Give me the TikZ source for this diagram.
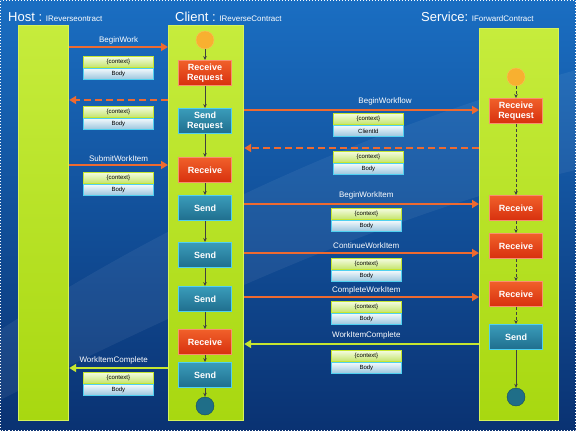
\documentclass[tikz,border=0pt]{standalone}
\usepackage{fontspec}
\setmainfont{Liberation Sans}
\usetikzlibrary{arrows.meta,calc,positioning}

\definecolor{bgtop}{HTML}{1A6EC2}
\definecolor{bgmid}{HTML}{1C80CE}
\definecolor{bgbot}{HTML}{0A3272}
\definecolor{lanetop}{HTML}{C6EC3C}
\definecolor{lanebot}{HTML}{A8D810}
\definecolor{lanerim}{HTML}{D6F25A}
\definecolor{recvtop}{HTML}{F0602A}
\definecolor{recvbot}{HTML}{D8300E}
\definecolor{recvrim}{HTML}{F89070}
\definecolor{sendtop}{HTML}{3A9CBA}
\definecolor{sendbot}{HTML}{1F6E8E}
\definecolor{sendrim}{HTML}{50D0F0}
\definecolor{msgorange}{HTML}{EE6A30}
\definecolor{msggreen}{HTML}{C6E630}
\definecolor{flowgrey}{HTML}{404040}
\definecolor{startfill}{HTML}{F8B030}
\definecolor{endfill}{HTML}{1F6E88}
\definecolor{hdrtop}{HTML}{F4FCE0}
\definecolor{hdrbot}{HTML}{C4E46C}
\definecolor{bodytop}{HTML}{F0F8FC}
\definecolor{bodybot}{HTML}{98C4DC}

\begin{document}
\begin{tikzpicture}[
  x=1pt,y=-1pt,
  lane/.style={rectangle,draw=lanerim,line width=1.2pt,top color=lanetop,bottom color=lanebot,anchor=north west,inner sep=0pt},
  actbox/.style={rectangle,line width=0.9pt,minimum width=53pt,minimum height=25pt,inner sep=1pt,
    align=center,text=white,font=\bfseries\fontsize{9}{9.5}\selectfont},
  recvbox/.style={actbox,draw=recvrim,top color=recvtop,bottom color=recvbot},
  sendbox/.style={actbox,draw=sendrim,top color=sendtop,bottom color=sendbot},
  startdot/.style={circle,fill=startfill,draw=startfill!80!white,minimum size=18pt,inner sep=0pt},
  enddot/.style={circle,fill=endfill,draw=endfill!70!black,minimum size=18pt,inner sep=0pt},
  flow/.style={-{Stealth[length=4pt,width=3.5pt]},draw=flowgrey,line width=0.6pt},
  svcflow/.style={flow,dash pattern=on 3pt off 2pt},
  msg/.style={-{Triangle[length=7pt,width=8pt]},draw=msgorange,line width=2.4pt},
  reply/.style={msg,dash pattern=on 7pt off 4pt},
  backmsg/.style={-{Triangle[length=7pt,width=8pt]},draw=msggreen,line width=2.2pt},
  msglab/.style={text=white,font=\fontsize{8}{9}\selectfont,inner sep=1pt},
  hdrbox/.style={rectangle,draw=msggreen,line width=0.8pt,top color=hdrtop,bottom color=hdrbot,
    minimum width=70pt,minimum height=11pt,inner sep=0pt,font=\fontsize{6}{6.5}\selectfont,anchor=north west},
  bodybox/.style={rectangle,draw=sendrim,line width=0.8pt,top color=bodytop,bottom color=bodybot,
    minimum width=70pt,minimum height=11pt,inner sep=0pt,font=\fontsize{6}{6.5}\selectfont},
  title/.style={text=white,anchor=base west,inner sep=0pt}
]
\useasboundingbox (0,0) rectangle (576,431);

% ---------------- background ----------------
\shade[top color=bgtop,middle color=bgmid,bottom color=bgbot] (0,0) rectangle (576,431);
\fill[white,opacity=0.06] (0,330) .. controls (200,200) and (400,120) .. (576,70)
  -- (576,170) .. controls (400,210) and (200,300) .. (0,400) -- cycle;
\draw[white,dotted,line width=1pt] (0.5,0.5) rectangle (575.5,430.5);

% ---------------- titles ----------------
\node[title] (thost) at (8,21) {{\fontsize{13}{14}\selectfont Host :} {\fontsize{8}{9}\selectfont IReverseontract}};
\node[title] (tclient) at (175,21) {{\fontsize{13}{14}\selectfont Client :} {\fontsize{8}{9}\selectfont IReverseContract}};
\node[title] (tservice) at (421,21) {{\fontsize{13}{14}\selectfont Service:} {\fontsize{8}{9}\selectfont IForwardContract}};

% ---------------- lanes ----------------
\node[lane,minimum width=50pt,minimum height=395pt] (host) at (18,25) {};
\node[lane,minimum width=75pt,minimum height=395pt] (client) at (168,25) {};
\node[lane,minimum width=79pt,minimum height=392pt] (service) at (479,28) {};

% ---------------- client activities ----------------
\node[startdot] (cstart) at (205,40) {};
\node[recvbox] (c1) at (205,73) {Receive\\Request};
\node[sendbox] (c2) at (205,121) {Send\\Request};
\node[recvbox] (c3) at (205,170) {Receive};
\node[sendbox] (c4) at (205,208) {Send};
\node[sendbox] (c5) at (205,255) {Send};
\node[sendbox] (c6) at (205,299) {Send};
\node[recvbox] (c7) at (205,342) {Receive};
\node[sendbox] (c8) at (205,375) {Send};
\node[enddot] (cend) at (205,406) {};

\draw[flow] (cstart) -- (c1);
\foreach \a/\b in {c1/c2,c2/c3,c3/c4,c4/c5,c5/c6,c6/c7,c7/c8,c8/cend}
  \draw[flow] (\a) -- (\b);

% ---------------- service activities ----------------
\node[startdot] (sstart) at (516,77) {};
\node[recvbox] (s1) at (516,111) {Receive\\Request};
\node[recvbox] (s2) at (516,208) {Receive};
\node[recvbox] (s3) at (516,246) {Receive};
\node[recvbox] (s4) at (516,294) {Receive};
\node[sendbox] (s5) at (516,337) {Send};
\node[enddot] (send) at (516,397) {};

\foreach \a/\b in {sstart/s1,s1/s2,s2/s3,s3/s4,s4/s5}
  \draw[svcflow] (\a) -- (\b);
\draw[flow] (s5) -- (send);

% ---------------- messages host <-> client ----------------
\coordinate (m1) at (0,47);
\coordinate (m2) at (0,100);
\coordinate (m3) at (0,165);
\coordinate (m4) at (0,368);
\draw[msg] (host.east |- m1) -- (client.west |- m1);
\node[msglab,anchor=south] at ($(host.east |- m1)!0.5!(client.west |- m1)+(0,-2)$) {BeginWork};
\draw[reply] (client.west |- m2) -- (host.east |- m2);
\draw[msg] (host.east |- m3) -- (client.west |- m3);
\node[msglab,anchor=south] at ($(host.east |- m3)!0.5!(client.west |- m3)+(0,-2)$) {SubmitWorkItem};
\draw[backmsg] (client.west |- m4) -- (host.east |- m4);
\node[msglab,anchor=south] at ($(host.east |- m4)!0.45!(client.west |- m4)+(0,-3)$) {WorkItemComplete};

% ---------------- messages client <-> service ----------------
\coordinate (m5) at (0,110);
\coordinate (m6) at (0,148);
\coordinate (m7) at (0,204);
\coordinate (m8) at (0,253);
\coordinate (m9) at (0,297);
\coordinate (m10) at (0,344);
\draw[msg] (client.east |- m5) -- (service.west |- m5);
\node[msglab,anchor=south] at ($(client.east |- m5)!0.6!(service.west |- m5)+(0,-4)$) {BeginWorkflow};
\draw[reply] (service.west |- m6) -- (client.east |- m6);
\draw[msg] (client.east |- m7) -- (service.west |- m7);
\node[msglab,anchor=south] at ($(client.east |- m7)!0.52!(service.west |- m7)+(0,-4)$) {BeginWorkItem};
\draw[msg] (client.east |- m8) -- (service.west |- m8);
\node[msglab,anchor=south] at ($(client.east |- m8)!0.52!(service.west |- m8)+(0,-3)$) {ContinueWorkItem};
\draw[msg] (client.east |- m9) -- (service.west |- m9);
\node[msglab,anchor=south] at ($(client.east |- m9)!0.52!(service.west |- m9)+(0,-2)$) {CompleteWorkItem};
\draw[backmsg] (service.west |- m10) -- (client.east |- m10);
\node[msglab,anchor=south] at ($(client.east |- m10)!0.52!(service.west |- m10)+(0,-4)$) {WorkItemComplete};

% ---------------- message contents ----------------
\foreach \n/\x/\y/\bt in {b1/83/56/Body,b2/83/106/Body,b3/83/172/Body,b4/83/372/Body,
    b5/333/113/ClientId,b6/333/151/Body,b7/331/208/Body,b8/331/258/Body,b9/331/301/Body,b10/331/350/Body}{
  \node[hdrbox] (\n-hdr) at (\x,\y) {\{context\}};
  \node[bodybox,below=0.5pt of \n-hdr] (\n-body) {\bt};
}

\end{tikzpicture}
\end{document}
